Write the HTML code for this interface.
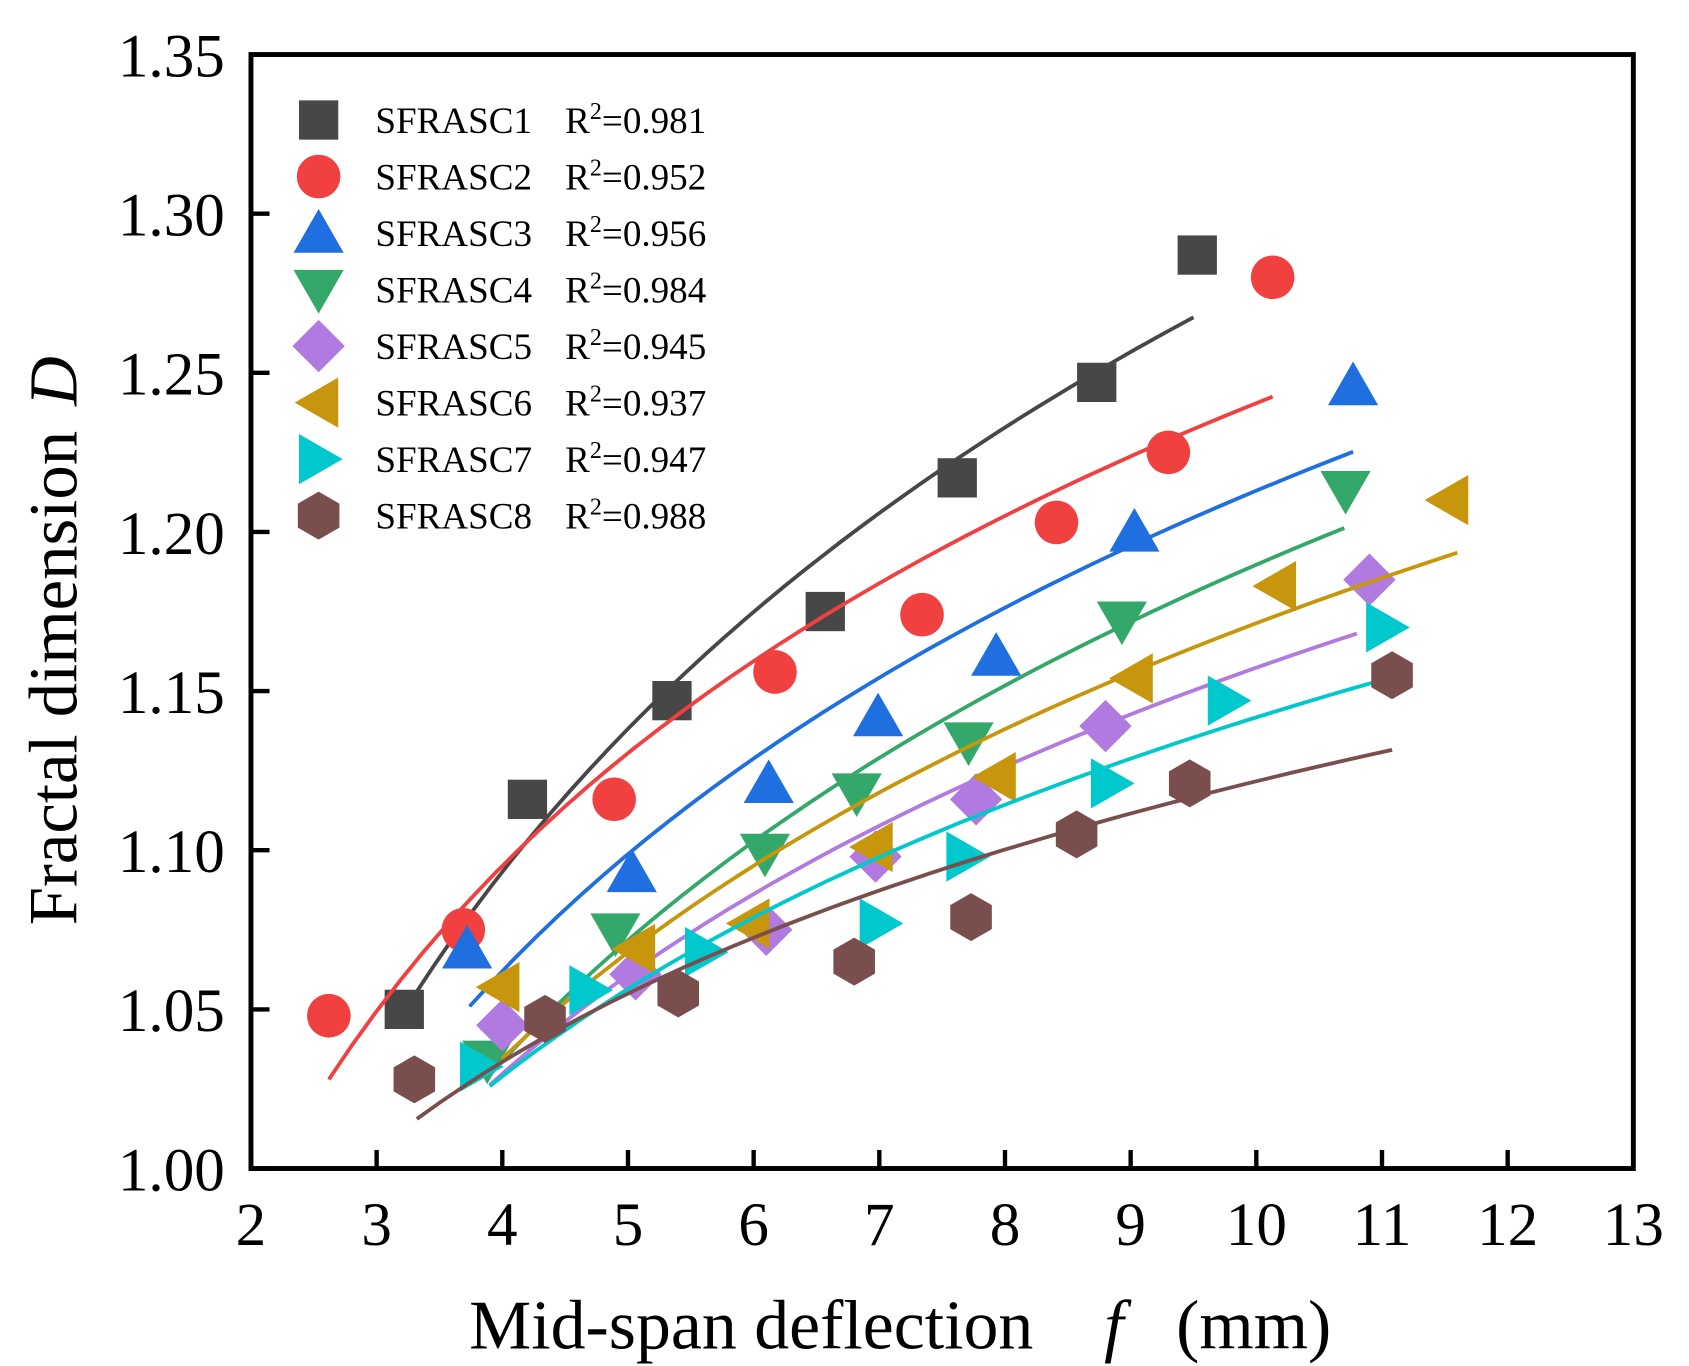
<!DOCTYPE html>
<html><head><meta charset="utf-8"><style>html,body{margin:0;padding:0;background:#fff}svg{display:block}text{font-family:"Liberation Serif",serif;fill:#000}</style></head>
<body>
<svg id="chart" width="1689" height="1366" viewBox="0 0 1548 1252" xmlns="http://www.w3.org/2000/svg">
<g id="marks"></g>
<rect x="230" y="50" width="1267" height="1021" fill="none" stroke="#000" stroke-width="4.5"/>
<g id="axes"></g>
<text y="1236" font-size="64"><tspan x="430">Mid-span deflection</tspan><tspan x="1012" font-style="italic">f</tspan><tspan x="1078">(mm)</tspan></text>
<text transform="translate(70,0) rotate(-90)" font-size="63"><tspan x="-848">Fractal dimension</tspan><tspan x="-372" font-style="italic">D</tspan></text>
<g id="legend"></g>
</svg>
<script>
const seriesNames=["SFRASC1","SFRASC2","SFRASC3","SFRASC4","SFRASC5","SFRASC6","SFRASC7","SFRASC8"];
const r2Labels=["0.981","0.952","0.956","0.984","0.945","0.937","0.947","0.988"];
const xTicks=[2,3,4,5,6,7,8,9,10,11,12,13];
const yTicks=[1.00,1.05,1.10,1.15,1.20,1.25,1.30,1.35];
const x1=[3.22,4.20,5.35,6.57,7.62,8.73,9.53];
const y1=[1.050,1.116,1.147,1.175,1.217,1.247,1.287];
const x2=[2.62,3.69,4.89,6.17,7.34,8.41,9.30,10.13];
const y2=[1.048,1.075,1.116,1.156,1.174,1.203,1.225,1.280];
const x3=[3.72,5.03,6.12,6.99,7.93,9.03,10.77];
const y3=[1.069,1.093,1.121,1.142,1.161,1.200,1.246];
const x4=[3.88,4.90,6.09,6.82,7.71,8.93,10.71];
const y4=[1.034,1.074,1.099,1.118,1.134,1.172,1.213];
const x5=[4.00,5.06,6.10,6.97,7.77,8.80,10.90];
const y5=[1.045,1.061,1.075,1.098,1.116,1.139,1.185];
const x6=[3.98,5.06,5.97,6.95,7.93,9.02,10.16,11.53];
const y6=[1.057,1.069,1.077,1.101,1.123,1.154,1.183,1.210];
const x7=[3.82,4.69,5.61,7.00,7.69,8.84,9.77,11.03];
const y7=[1.032,1.056,1.068,1.077,1.098,1.121,1.147,1.170];
const x8=[3.30,4.34,5.40,6.80,7.73,8.57,9.47,11.08];
const y8=[1.028,1.047,1.055,1.065,1.079,1.105,1.121,1.155];
const fitX0=[3.3,2.62,3.74,3.9,3.9,4.0,3.9,3.32];
const fitX1=[9.5,10.13,10.77,10.7,10.8,11.6,11.0,11.08];
const allX=[x1,x2,x3,x4,x5,x6,x7,x8], allY=[y1,y2,y3,y4,y5,y6,y7,y8];
const colors=["#474747","#f04040","#1f6fe0","#34a86a","#b07ae0","#c8960c","#00c8cc","#7b4e4e"];
const shapes=["square","circle","up","down","diamond","left","right","hex"];
const NS="http://www.w3.org/2000/svg";
const X=v=>230+(v-2)*1267/11, Y=v=>1071-(v-1)*1021/0.35;
function mk(tag,at,parent){const e=document.createElementNS(NS,tag);for(const k in at)e.setAttribute(k,at[k]);parent.appendChild(e);return e;}
function marker(shape,cx,cy,col,parent){const s=20;let e;
 if(shape==="square")e=mk("rect",{x:cx-s*0.9,y:cy-s*0.9,width:s*1.8,height:s*1.8,fill:col},parent);
 else if(shape==="circle")e=mk("circle",{cx:cx,cy:cy,r:s,fill:col},parent);
 else{let p;
  if(shape==="up")p=[[0,-s*1.1],[s*1.15,s*0.9],[-s*1.15,s*0.9]];
  else if(shape==="down")p=[[0,s*1.1],[s*1.15,-s*0.9],[-s*1.15,-s*0.9]];
  else if(shape==="left")p=[[-s*1.1,0],[s*0.9,s*1.15],[s*0.9,-s*1.15]];
  else if(shape==="right")p=[[s*1.1,0],[-s*0.9,s*1.15],[-s*0.9,-s*1.15]];
  else if(shape==="diamond")p=[[0,-s*1.2],[s*1.2,0],[0,s*1.2],[-s*1.2,0]];
  else{p=[];for(let i=0;i<6;i++){const a=Math.PI/6+i*Math.PI/3;p.push([s*1.1*Math.cos(a),s*1.1*Math.sin(a)]);}}
  e=mk("polygon",{points:p.map(q=>(cx+q[0])+","+(cy+q[1])).join(" "),fill:col},parent);}
 return e;}
const axes=document.getElementById("axes");
xTicks.forEach(t=>{const l=mk("line",{x1:X(t),x2:X(t),y1:1071,y2:1054,stroke:"#000","stroke-width":4},axes);
 
 
 const tx=mk("text",{x:X(t),y:1141,"font-size":56,"text-anchor":"middle"},axes);tx.textContent=t;
 
 });
yTicks.forEach(t=>{const l=mk("line",{x1:230,x2:247,y1:Y(t),y2:Y(t),stroke:"#000","stroke-width":4},axes);
 
 
 const tx=mk("text",{x:206,y:Y(t)+20,"font-size":56,"text-anchor":"end"},axes);tx.textContent=t.toFixed(2);
 
 });
const marks=document.getElementById("marks");
allX.forEach((xs,i)=>{const ys=allY[i];const g=mk("g",{},marks);
 
 
 const n=xs.length;let sx=0,sy=0,sxx=0,sxy=0;
 for(let k=0;k<n;k++){const lx=Math.log(xs[k]);sx+=lx;sy+=ys[k];sxx+=lx*lx;sxy+=lx*ys[k];}
 const b=(n*sxy-sx*sy)/(n*sxx-sx*sx),a=(sy-b*sx)/n;
 let d="";for(let k=0;k<=40;k++){const xv=fitX0[i]+(fitX1[i]-fitX0[i])*k/40;d+=(k?"L":"M")+X(xv).toFixed(1)+","+Y(a+b*Math.log(xv)).toFixed(1);}
 const fl=mk("path",{d:d,fill:"none",stroke:colors[i],"stroke-width":3.5},g);
 
 
 xs.forEach((xv,k)=>{const m=marker(shapes[i],X(xv),Y(ys[k]),colors[i],g);
  
  });});
const leg=document.getElementById("legend");
seriesNames.forEach((nm,i)=>{const yy=110+i*51.8;const g=mk("g",{},leg);
 
 
 marker(shapes[i],292,yy,colors[i],g);
 const t=mk("text",{x:344,y:yy+12,"font-size":34},g);
 t.innerHTML=nm+"<tspan x='518'>R</tspan><tspan font-size='22' dy='-13'>2</tspan><tspan dy='13'>="+r2Labels[i]+"</tspan>";});
</script>
</body></html>
